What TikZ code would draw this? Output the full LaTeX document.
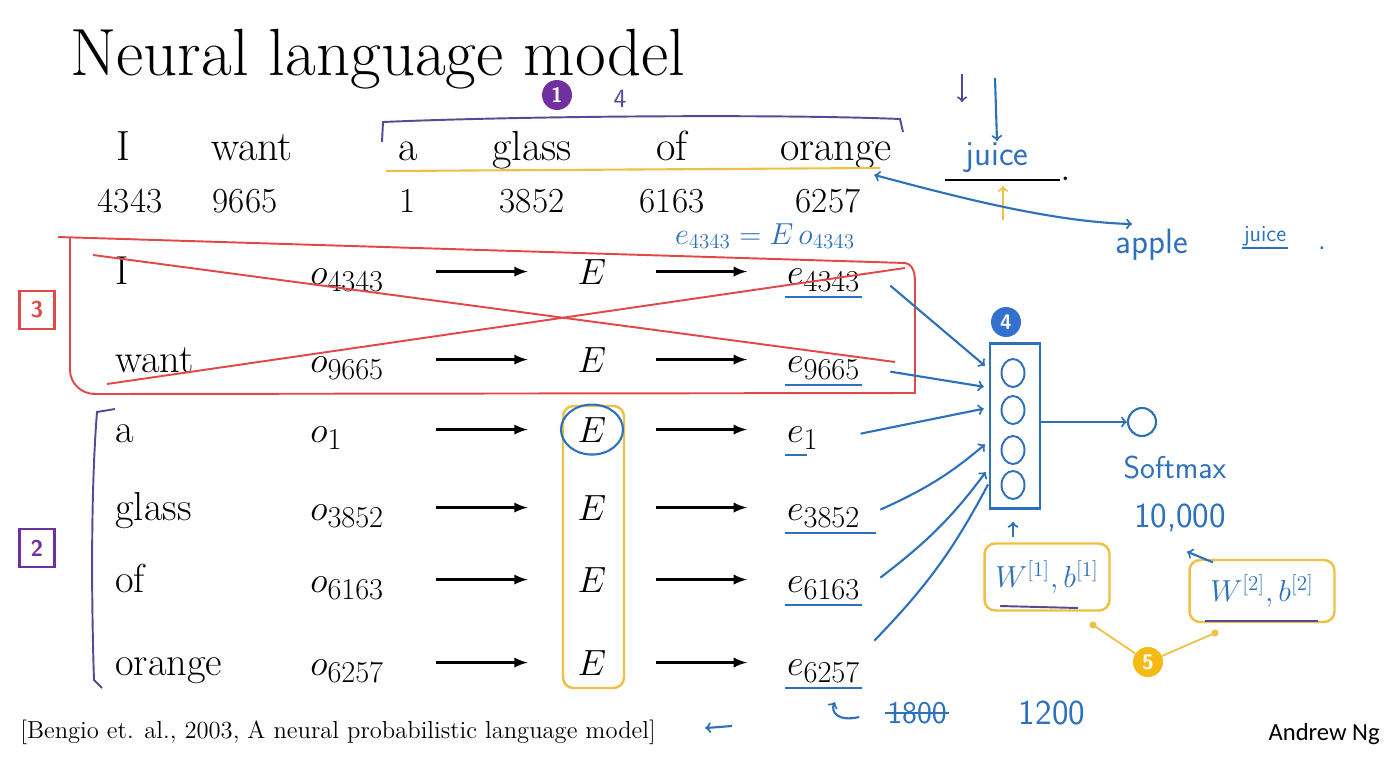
\documentclass[tikz,border=0pt]{standalone}
\usepackage{fontspec}
\usetikzlibrary{shapes.geometric,calc}
\newfontfamily\slidefont{Carlito}
\DeclareMathSizes{21}{21}{16}{12}
\definecolor{inkblue}{RGB}{45,112,188}
\definecolor{inkred}{RGB}{226,72,72}
\definecolor{inkyellow}{RGB}{238,192,70}
\definecolor{inknavy}{RGB}{88,72,150}
\definecolor{badgepurple}{RGB}{112,48,160}
\definecolor{badgeblue}{RGB}{52,112,205}
\definecolor{badgeyellow}{RGB}{246,186,20}

\begin{document}
\begin{tikzpicture}[x=0.02cm,y=-0.02cm,
  top/.style={anchor=base,font=\fontsize{24}{28}\selectfont,inner sep=0pt},
  num/.style={anchor=base,font=\fontsize{20}{24}\selectfont,inner sep=0pt},
  word/.style={anchor=base west,font=\fontsize{23}{28}\selectfont,inner sep=0pt},
  onehot/.style={anchor=base west,font=\fontsize{21}{26}\selectfont,inner sep=0pt,text width=2.5cm},
  emb/.style={anchor=base,font=\fontsize{21}{26}\selectfont,inner sep=0pt,minimum width=2.56cm},
  vec/.style={anchor=base west,font=\fontsize{21}{26}\selectfont,inner sep=1pt},
  arr/.style={-latex,line width=1.6pt},
  ink/.style={inkblue,line width=1.2pt},
  hand/.style={inkblue,font=\sffamily\fontsize{18}{20}\selectfont,inner sep=1pt},
  badge/.style={circle,fill=#1,text=white,font=\sffamily\bfseries\fontsize{12}{12}\selectfont,inner sep=0pt,minimum size=0.6cm},
  tag/.style={draw=#1,text=#1,line width=1.4pt,font=\sffamily\bfseries\fontsize{13}{13}\selectfont,minimum width=0.7cm,minimum height=0.76cm,inner sep=0pt},
  ybox/.style={draw=inkyellow,line width=1.4pt,rounded corners=6pt}]
  \useasboundingbox (0,0) rectangle (1400,758);
  \node[anchor=base west,font=\fontsize{38}{40}\selectfont,inner sep=0pt] (title) at (70,75) {Neural language model};

  % sentence and vocabulary indices
  \node[top] (tI) at (123,160) {I};
  \node[top] (tWant) at (252,160) {want};
  \node[top] (tA) at (408,160) {a};
  \node[top] (tGlass) at (532,160) {glass};
  \node[top] (tOf) at (672,160) {of};
  \node[top] (tOrange) at (836,160) {orange};
  \node[num] (nI) at (130,212) {4343};
  \node[num] (nWant) at (245,212) {9665};
  \node[num] (nA) at (408,212) {1};
  \node[num] (nGlass) at (532,212) {3852};
  \node[num] (nOf) at (672,212) {6163};
  \node[num] (nOrange) at (828,212) {6257};
  \draw[inkyellow,line width=1.2pt] (386,171) -- (880,168);
  \draw[inknavy,line width=1.1pt] (382,142) -- (383,122) .. controls (520,116) and (780,114) .. (900,119) -- (903,132);
  \node[badge=badgepurple] (b1) at (557,95) {1};
  \node[hand,text=inknavy,font=\sffamily\fontsize{15}{16}\selectfont] (four) at (620,99) {4};

  % the word to predict
  \draw[line width=1.2pt] (945,180) -- (1060,180);
  \node[top] (dot) at (1066,180) {.};
  \node[hand,font=\sffamily\fontsize{20}{22}\selectfont] (juice) at (997,158) {juice};
  \draw[inknavy,line width=1.1pt,->] (962,74) -- (962,102);
  \draw[ink,->] (995,78) -- (juice.north);
  \draw[inkyellow,line width=1.2pt,->] (1003,220) -- (1003,186);
  \node[hand,font=\sffamily\fontsize{20}{22}\selectfont] (apple) at (1152,245) {apple};
  \node[hand,font=\sffamily\fontsize{13}{14}\selectfont] (juice2) at (1265,236) {juice};
  \node[hand] (dot2) at (1322,248) {.};
  \draw[ink] (juice2.south west) -- (juice2.south east);
  \coordinate (appleL) at (1132,224);
  \draw[ink,<->] ($(tOrange.south east)+(-18,6)$) .. controls (950,195) and (1050,222) .. (appleL);
  \node[hand,font=\fontsize{17}{18}\selectfont] (look) at (765,236) {$e_{4343}=E\,o_{4343}$};

  % context rows
  \node[word] (word1) at (115,284) {I};
  \node[onehot] (oh1) at (310,284) {$o_{4343}$};
  \node[emb] (emb1) at (592,284) {$E$};
  \node[vec] (vec1) at (785,284) {$e_{4343}$};
  \node[word] (word2) at (115,372) {want};
  \node[onehot] (oh2) at (310,372) {$o_{9665}$};
  \node[emb] (emb2) at (592,372) {$E$};
  \node[vec] (vec2) at (785,372) {$e_{9665}$};
  \node[word] (word3) at (115,442) {a};
  \node[onehot] (oh3) at (310,442) {$o_{1}$};
  \node[emb] (emb3) at (592,442) {$E$};
  \node[vec] (vec3) at (785,442) {$e_{1}$};
  \node[word] (word4) at (115,520) {glass};
  \node[onehot] (oh4) at (310,520) {$o_{3852}$};
  \node[emb] (emb4) at (592,520) {$E$};
  \node[vec] (vec4) at (785,520) {$e_{3852}$};
  \node[word] (word5) at (115,592) {of};
  \node[onehot] (oh5) at (310,592) {$o_{6163}$};
  \node[emb] (emb5) at (592,592) {$E$};
  \node[vec] (vec5) at (785,592) {$e_{6163}$};
  \node[word] (word6) at (115,675) {orange};
  \node[onehot] (oh6) at (310,675) {$o_{6257}$};
  \node[emb] (emb6) at (592,675) {$E$};
  \node[vec] (vec6) at (785,675) {$e_{6257}$};
  \draw[arr] (emb1.west -| oh1.east) -- (emb1.west);
  \draw[arr,shorten >=0.76cm] (emb1.east) -- (emb1.east -| vec1.west);
  \draw[arr] (emb2.west -| oh2.east) -- (emb2.west);
  \draw[arr,shorten >=0.76cm] (emb2.east) -- (emb2.east -| vec2.west);
  \draw[arr] (emb3.west -| oh3.east) -- (emb3.west);
  \draw[arr,shorten >=0.76cm] (emb3.east) -- (emb3.east -| vec3.west);
  \draw[arr] (emb4.west -| oh4.east) -- (emb4.west);
  \draw[arr,shorten >=0.76cm] (emb4.east) -- (emb4.east -| vec4.west);
  \draw[arr] (emb5.west -| oh5.east) -- (emb5.west);
  \draw[arr,shorten >=0.76cm] (emb5.east) -- (emb5.east -| vec5.west);
  \draw[arr] (emb6.west -| oh6.east) -- (emb6.west);
  \draw[arr,shorten >=0.76cm] (emb6.east) -- (emb6.east -| vec6.west);
  \draw[ink] ([yshift=-2pt]vec1.south west) -- ([yshift=-2pt]vec1.south east);
  \draw[ink] ([yshift=-2pt]vec2.south west) -- ([yshift=-2pt]vec2.south east);
  \draw[ink] ([yshift=-2pt]vec3.south west) -- ([yshift=-2pt,xshift=-8pt]vec3.south east);
  \draw[ink] ([yshift=-2pt]vec4.south west) -- ([yshift=-2pt,xshift=8pt]vec4.south east);
  \draw[ink] ([yshift=-2pt]vec5.south west) -- ([yshift=-2pt]vec5.south east);
  \draw[ink] ([yshift=-2pt]vec6.south west) -- ([yshift=-2pt]vec6.south east);

  % dropped context
  \draw[inkred,line width=1.1pt] (58,237) -- (905,263) to[out=-10,in=90] (915,282) -- (915,393) -- (95,394) to[out=180,in=-90] (70,370) -- (70,237);
  \draw[inkred,line width=1.1pt] (93,255) -- (895,362);
  \draw[inkred,line width=1.1pt] (107,384) -- (905,268);
  \node[tag=inkred] (t3) at (37,310) {3};

  % kept context
  \draw[inknavy,line width=1.1pt] (115,409) -- (97,412) .. controls (90,500) and (92,620) .. (94,680) -- (102,688);
  \node[tag=badgepurple] (t2) at (37,548) {2};
  \draw[ybox] (563,406) rectangle (624,688);
  \node[draw=inkblue,ellipse,line width=1.2pt,minimum width=1.24cm,minimum height=1cm] (cE) at (emb3.center) {};

  % hidden layer
  \node[draw=inkblue,line width=1.2pt,minimum width=1cm,minimum height=3.3cm] (hid) at (1015,426) {};
  \node[badge=badgeblue] (b4) at (1006,322) {4};
  \node[draw=inkblue,ellipse,line width=1.1pt,minimum width=0.46cm,minimum height=0.56cm,inner sep=0pt] (h1) at (1013,373) {};
  \node[draw=inkblue,ellipse,line width=1.1pt,minimum width=0.46cm,minimum height=0.56cm,inner sep=0pt] (h2) at (1013,410) {};
  \node[draw=inkblue,ellipse,line width=1.1pt,minimum width=0.46cm,minimum height=0.56cm,inner sep=0pt] (h3) at (1013,450) {};
  \node[draw=inkblue,ellipse,line width=1.1pt,minimum width=0.46cm,minimum height=0.56cm,inner sep=0pt] (h4) at (1013,485) {};
  \draw[ink,->,shorten >=3pt] ($(vec1.east)+(28,6)$) -- ($(hid.north west)!0.16!(hid.south west)$);
  \draw[ink,->,shorten >=3pt] ($(vec2.east)+(28,4)$) -- ($(hid.north west)!0.27!(hid.south west)$);
  \draw[ink,->,shorten >=3pt] ($(vec3.east)+(40,-4)$) -- ($(hid.north west)!0.39!(hid.south west)$);
  \draw[ink,->,shorten >=3pt] ($(vec4.east)+(18,-6)$) to[bend right=8] ($(hid.north west)!0.59!(hid.south west)$);
  \draw[ink,->,shorten >=3pt] ($(vec5.east)+(18,-10)$) to[bend right=8] ($(hid.north west)!0.75!(hid.south west)$);
  \draw[ink,shorten >=1pt] ($(vec6.east)+(12,-30)$) to[bend right=8] ($(hid.north west)!0.84!(hid.south west)$);

  % output layer
  \node[draw=inkblue,circle,line width=1.2pt,minimum size=0.56cm] (out) at (1142,422) {};
  \draw[ink,->] (hid.east |- out.west) -- (out.west);
  \node[hand] (sm) at (1175,468) {Softmax};
  \node[hand,font=\sffamily\fontsize{20}{22}\selectfont] (tenk) at (1180,518) {10,000};

  % parameters
  \node[ybox,text=inkblue,font=\fontsize{18}{20}\selectfont,minimum width=2.5cm,minimum height=1.34cm] (w1) at (1047,577) {$W^{[1]},b^{[1]}$};
  \node[ybox,text=inkblue,font=\fontsize{18}{20}\selectfont,minimum width=2.9cm,minimum height=1.24cm] (w2) at (1262,591) {$W^{[2]},b^{[2]}$};
  \draw[inknavy,line width=1.1pt] (1000,606) -- (1078,608);
  \draw[inknavy,line width=1.1pt] (1205,621) -- (1318,621);
  \draw[ink,->,shorten <=3pt,shorten >=7pt] (w1.north -| h4) -- (hid.south -| h4);
  \draw[ink,->] ([xshift=14pt,yshift=-2pt]w2.north west) -- ([xshift=4pt,yshift=-10pt]tenk.south);
  \node[badge=badgeyellow] (b5) at (1148,662) {5};
  \draw[inkyellow,line width=1pt] (b5) -- (1093,625);
  \draw[inkyellow,line width=1pt] (b5) -- (1215,633);
  \fill[inkyellow] (1093,625) circle (2pt) (1215,633) circle (2pt);

  % embedding size
  \node[hand] (s18) at (917,713) {1800};
  \draw[ink] (s18.west) -- (s18.east);
  \node[hand,font=\sffamily\fontsize{20}{22}\selectfont] (s12) at (1052,713) {1200};
  \draw[ink,->] ($(s18.west)+(-26,4)$) .. controls (838,722) and (830,712) .. ($(vec6.south west)+(50,18)$);

  % footer
  \node[anchor=base west,font=\fontsize{14}{16}\selectfont,inner sep=0pt] (cite) at (20,738) {[Bengio et. al., 2003, A neural probabilistic language model]};
  \node[anchor=base east,font=\slidefont\fontsize{14}{16}\selectfont,inner sep=0pt] (ng) at (1380,740) {Andrew Ng};
  \draw[ink,->,shorten >=28pt] (732,726) -- (cite.east);
\end{tikzpicture}
\end{document}
